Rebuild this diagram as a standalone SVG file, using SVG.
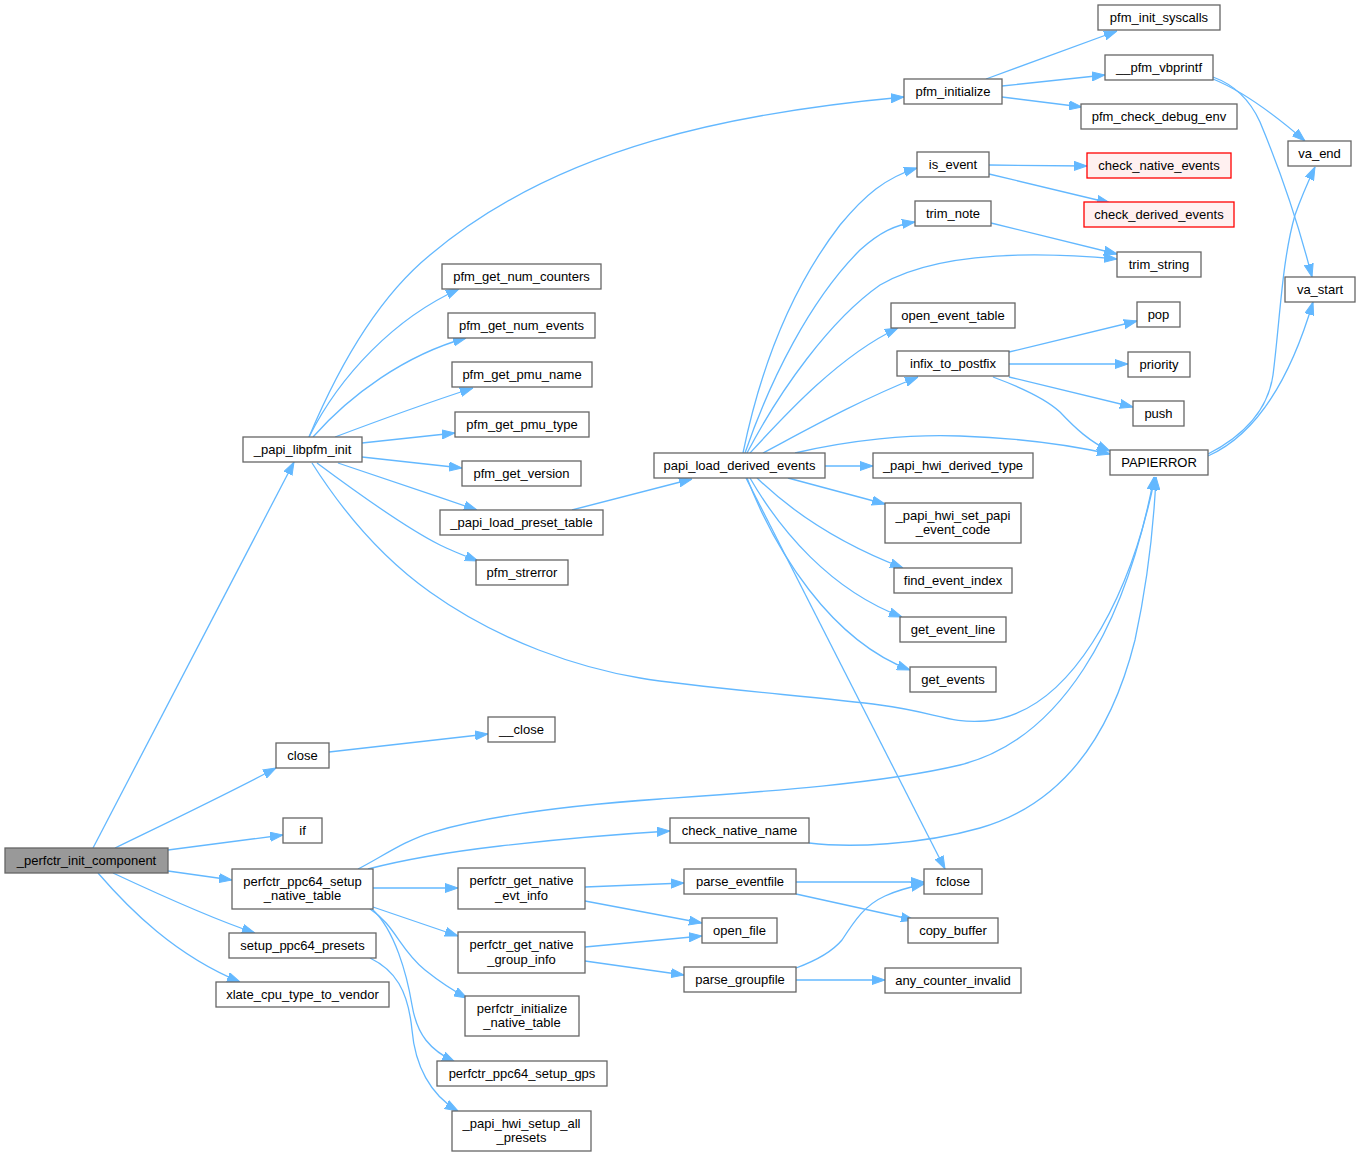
<svg xmlns="http://www.w3.org/2000/svg" width="1360" height="1157" viewBox="0 0 1360 1157">
<style>
.node rect{fill:#ffffff;stroke:#666666;stroke-width:1.3}
.root rect{fill:#999999}
.red rect{fill:#fff0f0;stroke:#ff0000}
text{font-family:"Liberation Sans",Arial,Helvetica,sans-serif;font-size:13px;text-anchor:middle;fill:#000000}
.edges path{fill:none;stroke:#63b8ff;stroke-width:1.3;marker-end:url(#arr)}
</style>
<defs>
<marker id="arr" markerUnits="userSpaceOnUse" markerWidth="13" markerHeight="10" viewBox="0 0 13 10" refX="13" refY="5" orient="auto">
<path d="M0,0.5 L13,5 L0,9.5 z" fill="#63b8ff" stroke="#63b8ff" stroke-width="1"/>
</marker>
</defs>
<rect width="1360" height="1157" fill="#ffffff"/>
<g class="edges" id="edges">
<path d="M93,848 L294,462"/>
<path d="M115,848 C160,826 225,795 276,768"/>
<path d="M168,850 L283,835"/>
<path d="M168,871 L232,880"/>
<path d="M113,873 C160,895 210,918 255,933"/>
<path d="M98,873 C130,910 175,955 240,982"/>
<path d="M309,437 C335,375 375,300 430,255 C560,145 740,112 904,97"/>
<path d="M309,437 C340,375 395,318 459,289"/>
<path d="M313,437 C350,395 405,355 466,338"/>
<path d="M335,437 C380,420 430,402 473,388"/>
<path d="M362,443 L455,433"/>
<path d="M362,457 L462,468"/>
<path d="M338,463 C380,477 430,494 477,510"/>
<path d="M317,463 C360,495 410,530 440,545 C452,551 465,556 478,561"/>
<path d="M312,463 C345,515 385,560 430,592 C500,642 580,668 640,678 C700,688 820,697 880,705 C935,712 950,724 985,721 C1070,714 1130,600 1155,477"/>
<path d="M329,752 L488,734"/>
<path d="M358,869 C380,858 405,840 433,832 C480,818 560,806 660,799 C760,792 880,784 960,765 C1060,740 1125,630 1154,477"/>
<path d="M368,869 C395,862 440,853 500,846 C560,839 620,834 670,831"/>
<path d="M373,888 L458,888"/>
<path d="M373,907 L458,936"/>
<path d="M370,909 C395,925 400,950 425,970 C440,982 452,990 467,998"/>
<path d="M372,909 C395,930 407,975 412,1005 C417,1035 430,1050 455,1062"/>
<path d="M370,958 C395,970 408,990 412,1030 C415,1065 430,1095 458,1111"/>
<path d="M743,453 C760,370 790,290 840,225 C865,195 885,178 917,168"/>
<path d="M745,453 C770,380 810,300 860,250 C880,232 895,225 915,222"/>
<path d="M747,453 C780,390 830,320 880,285 C940,250 1040,252 1117,259"/>
<path d="M750,453 C785,415 840,355 898,328"/>
<path d="M763,453 C810,428 860,400 918,377"/>
<path d="M795,453 C850,440 910,434 960,436 C1020,438 1070,445 1110,454"/>
<path d="M825,466 L873,466"/>
<path d="M788,478 L885,504"/>
<path d="M757,478 C785,505 830,540 903,568"/>
<path d="M750,478 C780,530 830,590 902,617"/>
<path d="M747,478 C775,550 830,640 910,670"/>
<path d="M746,478 L945,869"/>
<path d="M572,510 L692,479"/>
<path d="M986,79 L1117,31"/>
<path d="M1002,86 L1105,75"/>
<path d="M1002,97 L1082,107"/>
<path d="M1213,79 C1245,92 1275,115 1305,141"/>
<path d="M1213,77 C1235,85 1250,100 1260,122 C1280,170 1300,230 1312,277"/>
<path d="M989,165 L1087,166"/>
<path d="M989,174 L1110,203"/>
<path d="M991,223 L1117,254"/>
<path d="M1009,352 L1137,321"/>
<path d="M1009,364 L1128,364"/>
<path d="M1009,377 L1133,407"/>
<path d="M993,377 C1020,387 1045,398 1060,412 C1075,428 1090,442 1110,451"/>
<path d="M1208,454 C1245,435 1268,410 1273,375 C1280,320 1282,260 1295,215 C1302,195 1308,182 1315,167"/>
<path d="M1208,456 C1255,435 1290,380 1313,302"/>
<path d="M809,843 C850,848 920,845 980,828 C1060,805 1110,740 1135,640 C1148,580 1154,520 1156,477"/>
<path d="M585,887 L684,883"/>
<path d="M585,901 L702,923"/>
<path d="M585,947 L702,936"/>
<path d="M585,961 L684,975"/>
<path d="M796,882 L924,882"/>
<path d="M796,894 L914,920"/>
<path d="M796,968 C815,961 832,952 842,940 C855,920 865,905 885,896 C898,890 910,887 924,884"/>
<path d="M796,980 L885,980"/>
</g>
<g id="n0" class="node root"><rect x="5" y="848" width="163" height="25"/><text x="86.5" y="865">_perfctr_init_component</text></g>
<g id="n1" class="node"><rect x="243" y="437" width="119" height="25"/><text x="302.5" y="454">_papi_libpfm_init</text></g>
<g id="n2" class="node"><rect x="276" y="743" width="53" height="25"/><text x="302.5" y="760">close</text></g>
<g id="n3" class="node"><rect x="283" y="818" width="39" height="25"/><text x="302.5" y="835">if</text></g>
<g id="n4" class="node"><rect x="232" y="869" width="141" height="40"/><text x="302.5" y="885.5">perfctr_ppc64_setup</text><text x="302.5" y="899.5">_native_table</text></g>
<g id="n5" class="node"><rect x="229" y="933" width="147" height="25"/><text x="302.5" y="950">setup_ppc64_presets</text></g>
<g id="n6" class="node"><rect x="216" y="982" width="173" height="25"/><text x="302.5" y="999">xlate_cpu_type_to_vendor</text></g>
<g id="n7" class="node"><rect x="904" y="79" width="98" height="25"/><text x="953" y="96">pfm_initialize</text></g>
<g id="n8" class="node"><rect x="442" y="264" width="159" height="25"/><text x="521.5" y="281">pfm_get_num_counters</text></g>
<g id="n9" class="node"><rect x="448" y="313" width="147" height="25"/><text x="521.5" y="330">pfm_get_num_events</text></g>
<g id="n10" class="node"><rect x="452" y="362" width="140" height="25"/><text x="522" y="379">pfm_get_pmu_name</text></g>
<g id="n11" class="node"><rect x="455" y="412" width="134" height="25"/><text x="522" y="429">pfm_get_pmu_type</text></g>
<g id="n12" class="node"><rect x="462" y="461" width="119" height="25"/><text x="521.5" y="478">pfm_get_version</text></g>
<g id="n13" class="node"><rect x="440" y="510" width="163" height="25"/><text x="521.5" y="527">_papi_load_preset_table</text></g>
<g id="n14" class="node"><rect x="476" y="560" width="92" height="25"/><text x="522" y="577">pfm_strerror</text></g>
<g id="n15" class="node"><rect x="1110" y="450" width="98" height="25"/><text x="1159" y="467">PAPIERROR</text></g>
<g id="n16" class="node"><rect x="488" y="717" width="67" height="25"/><text x="521.5" y="734">__close</text></g>
<g id="n17" class="node"><rect x="670" y="818" width="139" height="25"/><text x="739.5" y="835">check_native_name</text></g>
<g id="n18" class="node"><rect x="458" y="868" width="127" height="41"/><text x="521.5" y="885">perfctr_get_native</text><text x="521.5" y="899.5">_evt_info</text></g>
<g id="n19" class="node"><rect x="458" y="932" width="127" height="41"/><text x="521.5" y="949">perfctr_get_native</text><text x="521.5" y="963.5">_group_info</text></g>
<g id="n20" class="node"><rect x="465" y="996" width="114" height="40"/><text x="522" y="1012.5">perfctr_initialize</text><text x="522" y="1026.5">_native_table</text></g>
<g id="n21" class="node"><rect x="437" y="1061" width="170" height="25"/><text x="522" y="1078">perfctr_ppc64_setup_gps</text></g>
<g id="n22" class="node"><rect x="452" y="1111" width="139" height="40"/><text x="521.5" y="1127.5">_papi_hwi_setup_all</text><text x="521.5" y="1141.5">_presets</text></g>
<g id="n23" class="node"><rect x="654" y="453" width="171" height="25"/><text x="739.5" y="470">papi_load_derived_events</text></g>
<g id="n24" class="node"><rect x="1098" y="5" width="122" height="25"/><text x="1159" y="22">pfm_init_syscalls</text></g>
<g id="n25" class="node"><rect x="1105" y="55" width="108" height="25"/><text x="1159" y="72">__pfm_vbprintf</text></g>
<g id="n26" class="node"><rect x="1081" y="104" width="156" height="25"/><text x="1159" y="121">pfm_check_debug_env</text></g>
<g id="n27" class="node"><rect x="1288" y="141" width="63" height="25"/><text x="1319.5" y="158">va_end</text></g>
<g id="n28" class="node"><rect x="1285" y="277" width="70" height="25"/><text x="1320" y="294">va_start</text></g>
<g id="n29" class="node"><rect x="917" y="152" width="72" height="25"/><text x="953" y="169">is_event</text></g>
<g id="n30" class="node red"><rect x="1087" y="153" width="144" height="25"/><text x="1159" y="170">check_native_events</text></g>
<g id="n31" class="node"><rect x="915" y="201" width="76" height="25"/><text x="953" y="218">trim_note</text></g>
<g id="n32" class="node red"><rect x="1084" y="202" width="150" height="25"/><text x="1159" y="219">check_derived_events</text></g>
<g id="n33" class="node"><rect x="1117" y="252" width="84" height="25"/><text x="1159" y="269">trim_string</text></g>
<g id="n34" class="node"><rect x="891" y="303" width="124" height="25"/><text x="953" y="320">open_event_table</text></g>
<g id="n35" class="node"><rect x="1137" y="302" width="43" height="25"/><text x="1158.5" y="319">pop</text></g>
<g id="n36" class="node"><rect x="897" y="351" width="112" height="25"/><text x="953" y="368">infix_to_postfix</text></g>
<g id="n37" class="node"><rect x="1128" y="352" width="62" height="25"/><text x="1159" y="369">priority</text></g>
<g id="n38" class="node"><rect x="1133" y="401" width="51" height="25"/><text x="1158.5" y="418">push</text></g>
<g id="n39" class="node"><rect x="873" y="453" width="160" height="25"/><text x="953" y="470">_papi_hwi_derived_type</text></g>
<g id="n40" class="node"><rect x="885" y="503" width="136" height="40"/><text x="953" y="519.5">_papi_hwi_set_papi</text><text x="953" y="533.5">_event_code</text></g>
<g id="n41" class="node"><rect x="894" y="568" width="118" height="25"/><text x="953" y="585">find_event_index</text></g>
<g id="n42" class="node"><rect x="900" y="617" width="106" height="25"/><text x="953" y="634">get_event_line</text></g>
<g id="n43" class="node"><rect x="910" y="667" width="86" height="25"/><text x="953" y="684">get_events</text></g>
<g id="n44" class="node"><rect x="684" y="869" width="112" height="25"/><text x="740" y="886">parse_eventfile</text></g>
<g id="n45" class="node"><rect x="702" y="918" width="75" height="25"/><text x="739.5" y="935">open_file</text></g>
<g id="n46" class="node"><rect x="684" y="967" width="112" height="25"/><text x="740" y="984">parse_groupfile</text></g>
<g id="n47" class="node"><rect x="924" y="869" width="58" height="25"/><text x="953" y="886">fclose</text></g>
<g id="n48" class="node"><rect x="908" y="918" width="90" height="25"/><text x="953" y="935">copy_buffer</text></g>
<g id="n49" class="node"><rect x="885" y="968" width="136" height="25"/><text x="953" y="985">any_counter_invalid</text></g>
</svg>
